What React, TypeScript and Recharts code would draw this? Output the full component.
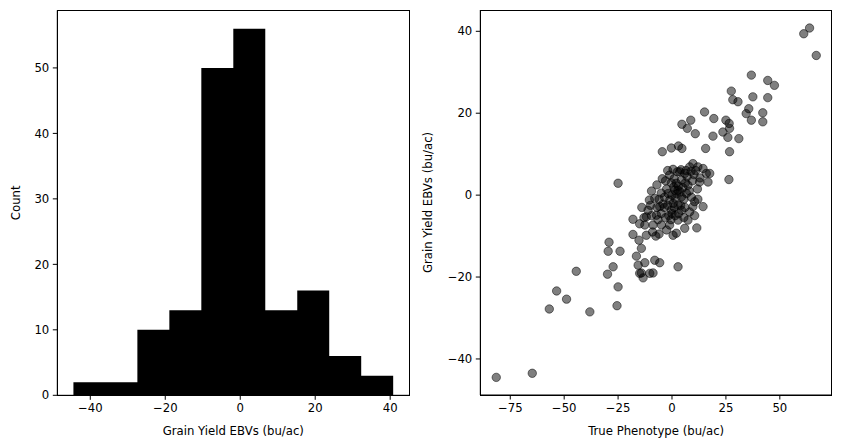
import React from 'react';
import { ComposedChart, Area, ScatterChart, Scatter, XAxis, YAxis } from 'recharts';

// histogram of the EBVs
const binEdges = [-44.5, -35.97, -27.44, -18.91, -10.38, -1.85, 6.68, 15.21, 23.74, 32.27, 40.8];
const binCounts = [2, 2, 10, 13, 50, 56, 13, 16, 6, 3];
const histXTicks = [-40, -20, 0, 20, 40];
const histYTicks = [0, 10, 20, 30, 40, 50];

// scatter: true phenotype vs EBV
const truePhenotype = [
  -81.5, -64.8,
  -56.9, -38.1,
  -53.5, -48.9, -25, -25.5, -29.9, -15, -14.2, -10.3, -8.8, -13.4,
  -44.4, -29.2, -29.6, -24.1, -16.5, -27.3, -15.3, -14.2, -12.6, -8, -5.7, -15.7, 2.8,
  0.5, -4.2, -5.7, -11.1, -11.9, -0.3, -18.1, -7.2, -8.8, -12.6, -4.9, -1.1, 0.5, 2, -18.1, -11.9,
  2.8, 14.4, 9.7, 4.4, 8.2, 2.8, 7.4, 5.9,
  -14, -13, -10, -9.5, -9, -7, -6.5, -6, -5, -3.5, -3, -2.5, -2, -1.5, -0.5, 0, 1, 1.5, 3, 4,
  5.5, 6, 10.5, 11.5, -7.5, -15,
  -1.1, 2.5, -0.3, -1.8, 1.3, 15.9, 14.4, 3.6, 5.9, 12.8, 16.7, 4.4, 2, 7.4, 2.8, 6.7, 4.4, 10.5,
  -8, 26.4, 17.5, -25,
  -6, -5, -3.5, -2.5, -1, 0, 0.8, 1.5, 2.2, 3, 3.8, 5, 5.5, 6.2, 7, 8, 8.8, 9.5, 10.2, 11, 11.8,
  -3, -2, 0.5, 1, 4.2, 6.5, -9.5, -7, -4.5, -10.5, 13, 9, 12,
  10.8, 19, 25.9, 31, 3, 4.6, 15.6, -4.5, -0.3, 26.7, 9.7, 8.2, 12,
  15.1, 19.4, 4.6, 8.7, 7.1, 25, 28.2, 30.6, 35.6, 34.4, 42.1, 36.8, 42.1, 26.5, 26.7, 23.6,
  36.8, 44.4, 47.5, 27.5, 37.5, 44.4,
  63.8, 61.1, 66.9,
];
const grainYieldEbv = [
  -44.5, -43.5,
  -27.8, -28.5,
  -23.4, -25.4, -22.4, -27, -19.3, -19.1, -19, -19.1, -19, -20.2,
  -18.6, -11.5, -13.7, -13.7, -14.9, -17.5, -11, -13, -16.5, -15.9, -16.5, -17.1, -17.5,
  -2, -2.2, -2.8, -3.7, -5.3, -3.7, -5.9, -4.9, -7.3, -7.3, -7.3, -7.3, -9.8, -9.3, -9.6, -9.8,
  -2.4, -2.8, -2.8, -3.7, -4.1, -6.1, -6.1, -8.1,
  -3, -5.5, -2.5, -5, -9, -3, -6, -9.5, -4.5, -3, -5.5, -8.5, -2.5, -5, -6, -4.5, -3, -5, -4.5, -2.5,
  -5.5, -3, -5, -8, -10, -7,
  4.9, 5.7, 3, 0.4, 1.2, 5.3, 6.5, 5.7, 5.3, 3.2, 3.2, 3.7, 2.9, 2.4, 1.2, 0.4, -0.4, -1.6,
  -0.8, 3.8, 5.3, 2.9,
  -1, 0.5, -0.5, 1.5, -1.2, 0, 2, -0.8, 0.3, 2.2, 0.8, 1.8, -1, 3, 4.5, 1, 5.8, 3.5, 5, 6, 1.5,
  3.5, 6, 6.3, 4, 6.2, 6, 1, 2.5, 4, -1.2, 4.2, -0.5, -1,
  15, 14.4, 14.1, 13.8, 12, 11.4, 11.4, 10.6, 11.5, 10.6, 7.7, 6.9, 6.9,
  20.3, 18.7, 17.3, 18.3, 16.3, 18.3, 23.3, 22.8, 21.1, 19.9, 20.1, 18.3, 17.9, 17.5, 16.3, 15.4,
  29.3, 28, 26.8, 25.4, 24, 23.8,
  40.8, 39.4, 34.1,
];
const scatterXTicks = [-75, -50, -25, 0, 25, 50];
const scatterYTicks = [-40, -20, 0, 20, 40];

const histData = binEdges.map((edge, i) => ({
  edge,
  count: i < binCounts.length ? binCounts[i] : binCounts[binCounts.length - 1],
}));
const scatterData = truePhenotype.map((x, i) => ({ x, y: grainYieldEbv[i] }));

const font = 'DejaVu Sans, sans-serif';
const tickStyle = { fontSize: 11.7, fill: '#000', fontFamily: font };
const labelStyle = { fontSize: 11.7, fill: '#000', fontFamily: font, textAnchor: 'middle' as const };
const fmt = (v: number) => (v < 0 ? `\u2212${Math.abs(v)}` : `${v}`);

const Dot = (props: any) => (
  <circle
    cx={props.cx}
    cy={props.cy}
    r={4.2}
    fill="#000"
    fillOpacity={0.5}
    stroke="#000"
    strokeOpacity={0.5}
    strokeWidth={1}
  />
);

// axes frame (matplotlib spines)
const Frame = ({ left, top, width, height }: { left: number; top: number; width: number; height: number }) => (
  <div
    style={{
      position: 'absolute',
      left: left - 0.5,
      top: top - 0.5,
      width: width + 1,
      height: height + 1,
      boxSizing: 'border-box',
      border: '1px solid #000',
      pointerEvents: 'none',
    }}
  />
);

export default function App() {
  return (
    <div style={{ position: 'relative', width: 841, height: 448, background: '#fff' }}>
      <style>{`body{margin:0}`}</style>
      {/* left: histogram */}
      <div style={{ position: 'absolute', left: 0, top: 0 }}>
        <ComposedChart width={410} height={448} data={histData} margin={{ top: 10.3, right: 0.7, bottom: 0, left: 0 }}>
          <XAxis
            dataKey="edge"
            type="number"
            domain={[-48.8, 45.1]}
            ticks={histXTicks}
            tickFormatter={fmt}
            height={52.7}
            stroke="#000"
            tickSize={4.5}
            tickMargin={4}
            tick={tickStyle}
            allowDataOverflow
            label={{ value: 'Grain Yield EBVs (bu/ac)', position: 'insideBottom', offset: 13, style: labelStyle }}
          />
          <YAxis
            type="number"
            domain={[0, 58.8]}
            ticks={histYTicks}
            width={57.3}
            stroke="#000"
            tickSize={4.5}
            tickMargin={3.5}
            tick={tickStyle}
            allowDataOverflow
            label={{ value: 'Count', angle: -90, position: 'insideLeft', offset: 16, style: labelStyle }}
          />
          <Area
            dataKey="count"
            type="stepAfter"
            fill="#000"
            fillOpacity={1}
            stroke="none"
            baseValue={0}
            isAnimationActive={false}
            dot={false}
            activeDot={false}
          />
        </ComposedChart>
      </div>
      <Frame left={57.3} top={10.3} width={352} height={385} />
      {/* right: scatter */}
      <div style={{ position: 'absolute', left: 410, top: 0 }}>
        <ScatterChart width={431} height={448} margin={{ top: 10, right: 9, bottom: 0, left: 0 }}>
          <XAxis
            dataKey="x"
            type="number"
            domain={[-88.9, 74.2]}
            ticks={scatterXTicks}
            tickFormatter={fmt}
            height={53}
            stroke="#000"
            tickSize={4.5}
            tickMargin={4}
            tick={tickStyle}
            allowDataOverflow
            label={{ value: 'True Phenotype (bu/ac)', position: 'insideBottom', offset: 13, style: labelStyle }}
          />
          <YAxis
            dataKey="y"
            type="number"
            domain={[-48.8, 45.2]}
            ticks={scatterYTicks}
            tickFormatter={fmt}
            width={70.3}
            stroke="#000"
            tickSize={4.5}
            tickMargin={3.5}
            tick={tickStyle}
            allowDataOverflow
            label={{ value: 'Grain Yield EBVs (bu/ac)', angle: -90, position: 'insideLeft', offset: 17.7, style: labelStyle }}
          />
          <Scatter data={scatterData} shape={Dot} isAnimationActive={false} />
        </ScatterChart>
      </div>
      <Frame left={480.3} top={10} width={351.7} height={385} />
    </div>
  );
}
